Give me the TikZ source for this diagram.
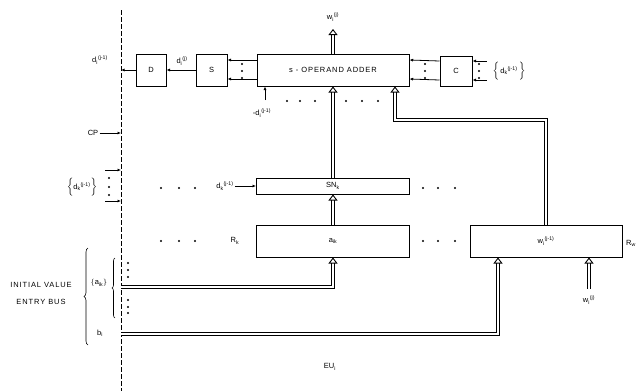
\documentclass[tikz,border=0pt]{standalone}
\usepackage{fontspec}
\setmainfont{Liberation Sans}
\newfontfamily\capsfont[LetterSpace=12]{Liberation Sans}
\usetikzlibrary{arrows.meta, positioning, calc, decorations.pathreplacing}
\newcommand{\vlab}[3]{#1\textsubscript{#2}\textsuperscript{#3}}

\begin{document}
\begin{tikzpicture}[x=1pt, y=-1pt, line width=0.8pt,
    every node/.style={font=\fontsize{7.5}{8}\selectfont, inner sep=1pt},
    blk/.style={draw, line width=1pt, inner sep=0pt},
    sig/.style={-{Latex[length=3.5pt,width=3pt]}},
    bus/.style={double distance=2.4pt, line width=0.9pt, -{Triangle[open,length=6pt,width=9pt]}},
    dot/.style={circle, fill, inner sep=0pt, minimum size=2.2pt}]
  \useasboundingbox (0,0) rectangle (638,391);
  % boundary of the unit
  \draw[dash pattern=on 5pt off 2pt, line width=0.7pt] (121,10) -- (121,391);
  % top row
  \node[blk, minimum width=30pt, minimum height=32pt] (D) at (151,70) {D};
  \node[blk, minimum width=31pt, minimum height=32pt] (S) at (211.5,70) {S};
  \node[blk, minimum width=152pt, minimum height=32pt] (adder) at (333,70) {\capsfont s - OPERAND ADDER};
  \node[blk, minimum width=32pt, minimum height=30pt] (C) at (456,71) {C};
  \node (dl) at (100,60) {\vlab{d}{i}{(j-1)}};
  \node (dj) at (182,61) {\vlab{d}{i}{(j)}};
  \coordinate (cut) at (121,70);
  \draw[sig] (D.west) -- (cut);
  \draw[sig] (S.west) -- (D.east);
  \foreach \dy in {-9,10} {
    \draw[sig] ([yshift=\dy]adder.west) -- ([yshift=\dy]S.east);
    \draw[sig] ([yshift=\dy]C.west) -- ([yshift=\dy]adder.east);
    \draw[sig] ([yshift=\dy, xshift=14pt]C.east) -- ([yshift=\dy]C.east);
  }
  \foreach \x in {242,425,479} {
    \foreach \y in {64,71,78} \node[dot] at (\x,\y) {};
  }
  \node (dkr) at (509,71) {$\Big\{$\,\vlab{d}{k}{(j-1)}\,$\Big\}$};
  \node (wo) at (333,17) {\vlab{w}{i}{(j)}};
  \coordinate (wotip) at (333,29);
  \draw[bus] (adder.north -| wotip) -- (wotip);
  \node (mdl) at (262,113) {-\vlab{d}{i}{(j-1)}};
  \coordinate (mdt) at (265,100);
  \draw[sig] (mdt) -- (mdt |- adder.south);
  \foreach \x in {287,300,315,346,362,378} \node[dot] at (\x,101) {};
  % control input
  \node (cp) at (93,133) {CP};
  \coordinate (cpin) at (121,133);
  \draw[sig] (cp.east) -- (cpin);
  % SN row
  \node[blk, minimum width=153pt, minimum height=16pt] (SN) at (333,186) {SN\textsubscript{k}};
  \node (dkl) at (82,187) {$\Big\{$\vlab{d}{k}{(j-1)}$\Big\}$};
  \foreach \y in {170,201} {
    \coordinate (e\y) at (121,\y);
    \draw[sig] (105,\y) -- (e\y);
  }
  \foreach \y in {178,187,195} \node[dot] at (109,\y) {};
  \foreach \x in {161,179,195,423,438,455} \node[dot] at (\x,188) {};
  \node (dks) at (225,186) {\vlab{d}{k}{(j-1)}};
  \draw[sig] (dks.east) -- (dks.east -| SN.west);
  \draw[bus] (SN.north) -- (SN.north |- adder.south);
  % register row
  \node[blk, minimum width=153pt, minimum height=32pt] (aik) at (333,241) {a\textsubscript{ik}};
  \node[blk, minimum width=152pt, minimum height=32pt] (wreg) at (546,241) {\vlab{w}{i}{(j-1)}};
  \node (rk) at (235,241) {R\textsubscript{k}};
  \node (rw) at (631,243) {R\textsubscript{w}};
  \foreach \x in {161,179,195,423,438,455} \node[dot] at (\x,241) {};
  \draw[bus] (aik.north) -- (SN.south);
  \coordinate (fbk) at (395,120);
  \draw[bus] (wreg.north) |- (fbk) -- (fbk |- adder.south);
  % entry bus
  \coordinate (abus) at (121,287);
  \coordinate (bbus) at (121,334);
  \draw[bus] (abus) -| (aik.south);
  \draw[bus] (bbus) -| ([xshift=-48pt]wreg.south);
  \coordinate (win) at (589,289);
  \draw[bus] (win) -- (win |- wreg.south);
  \node (wil) at (589,300) {\vlab{w}{i}{(j)}};
  \node (ini) at (41,285) {\capsfont INITIAL VALUE};
  \node (ent) at (41,302) {\capsfont ENTRY BUS};
  \draw[decorate, decoration={brace, amplitude=4pt}, line width=0.6pt] (88,345) -- (88,248);
  \node (aset) at (99,283) {$\{$a\textsubscript{ik}$\}$};
  \draw[decorate, decoration={brace, amplitude=3pt}, line width=0.6pt] (115,318) -- (115,258);
  \foreach \y in {263,270,277,300,307,313} \node[dot] at (128,\y) {};
  \node (bi) at (100,333) {b\textsubscript{i}};
  \node (eu) at (330,367) {EU\textsubscript{i}};
\end{tikzpicture}
\end{document}
